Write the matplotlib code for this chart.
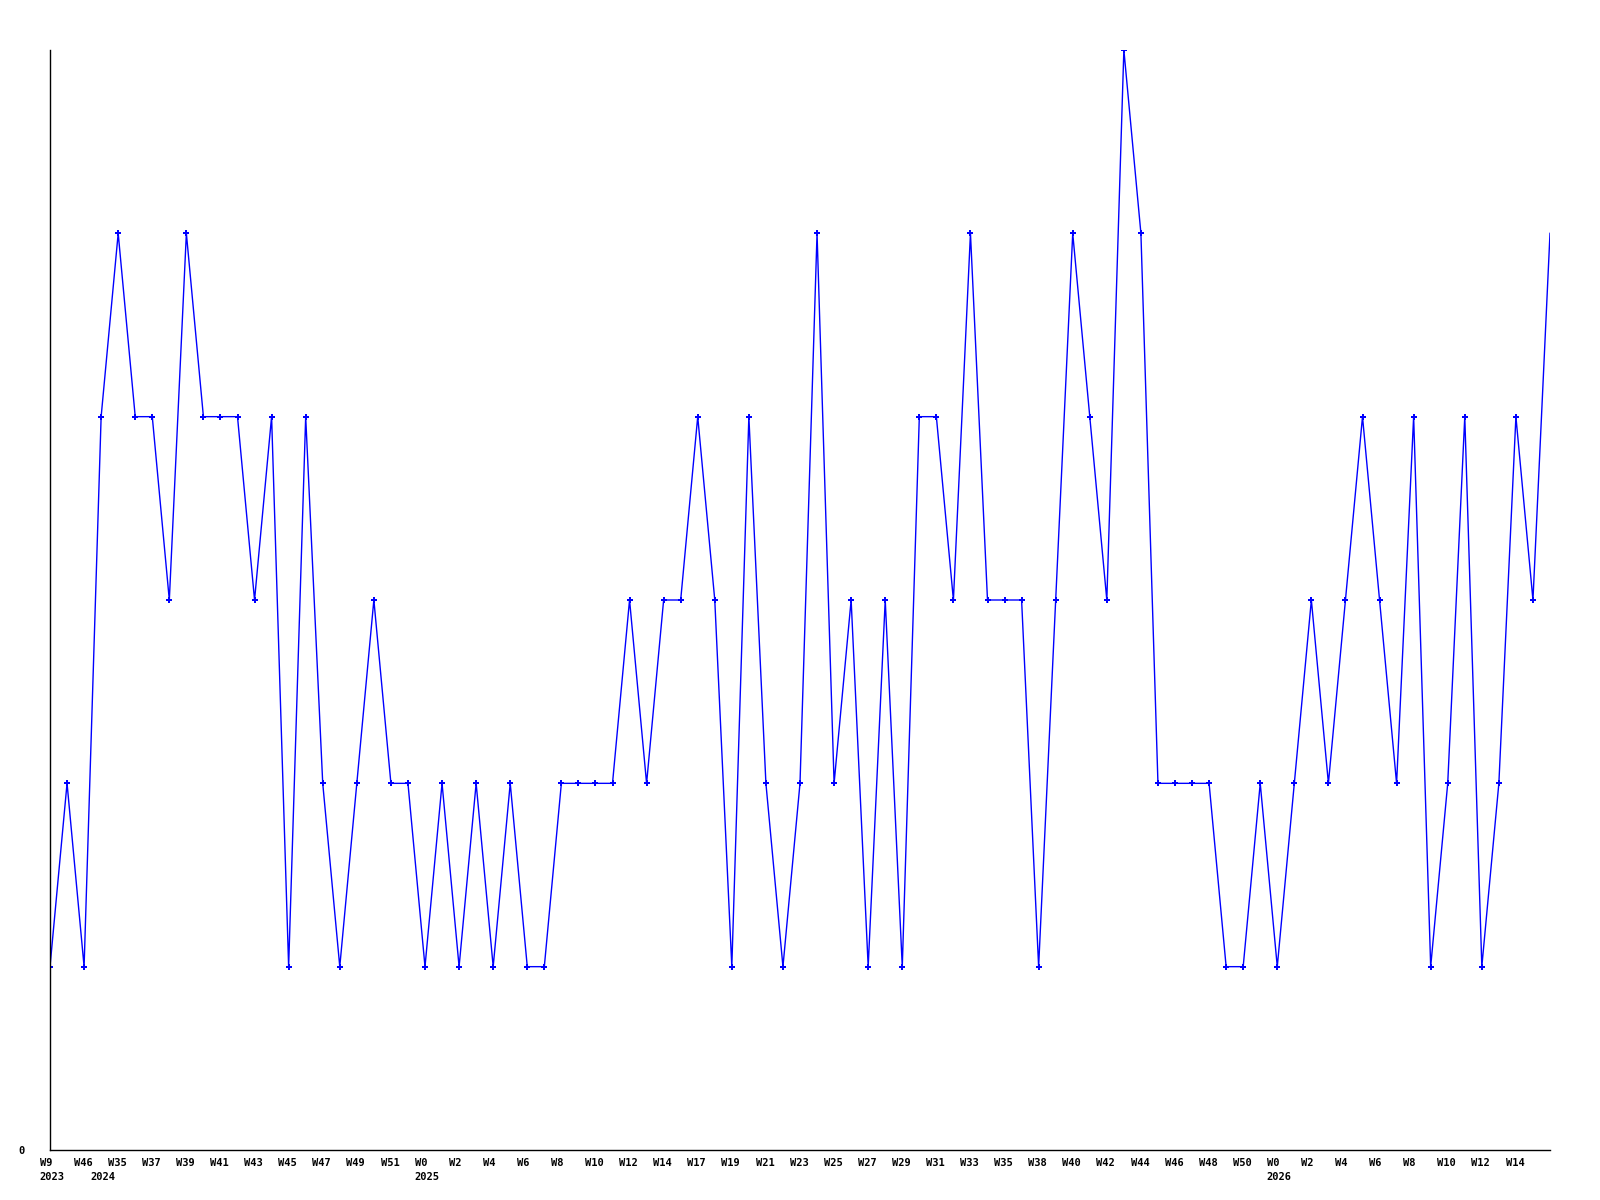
import matplotlib
matplotlib.use("Agg")
import matplotlib.pyplot as plt
import matplotlib.transforms as mtransforms

# weekly counts, one value per point
values = [1, 2, 1, 4, 5, 4, 4, 3, 5, 4,
          4, 4, 3, 4, 1, 4, 2, 1, 2, 3,
          2, 2, 1, 2, 1, 2, 1, 2, 1, 1,
          2, 2, 2, 2, 3, 2, 3, 3, 4, 3,
          1, 4, 2, 1, 2, 5, 2, 3, 1, 3,
          1, 4, 4, 3, 5, 3, 3, 3, 1, 3,
          5, 4, 3, 6, 5, 2, 2, 2, 2, 1,
          1, 2, 1, 2, 3, 2, 3, 4, 3, 2,
          4, 1, 2, 4, 1, 2, 4, 3, 5]

# week labels, placed on every second point
week_labels = ["W9", "W46", "W35", "W37", "W39", "W41", "W43", "W45", "W47", "W49",
               "W51", "W0", "W2", "W4", "W6", "W8", "W10", "W12", "W14", "W17",
               "W19", "W21", "W23", "W25", "W27", "W29", "W31", "W33", "W35", "W38",
               "W40", "W42", "W44", "W46", "W48", "W50", "W0", "W2", "W4", "W6",
               "W8", "W10", "W12", "W14"]
year_labels = {0: "2023", 3: "2024", 22: "2025", 72: "2026"}

x = list(range(len(values)))

fig = plt.figure(figsize=(16, 12), dpi=100)
ax = fig.add_axes([50 / 1600, 1 - 1150 / 1200, 1500 / 1600, 1100 / 1200])

ax.plot(x, values, color="#0000ff", linewidth=1)
ax.plot(x[:-1], values[:-1], linestyle="none", marker="P", markersize=4,
        color="#0000ff", markeredgewidth=0)

ax.set_xlim(0, len(values) - 1)
ax.set_ylim(0, 6)

# x labels drawn as text, left-aligned a little before each point
base = mtransforms.blended_transform_factory(ax.transData, ax.transAxes)
row1 = base + mtransforms.ScaledTranslation(-10.4 / 100, -8.0 / 100, fig.dpi_scale_trans)
row2 = base + mtransforms.ScaledTranslation(-10.4 / 100, -22.5 / 100, fig.dpi_scale_trans)
font = dict(fontsize=7.5, fontweight="bold", family="DejaVu Sans Mono", ha="left", va="top")
for k, lab in enumerate(week_labels):
    ax.text(2 * k, 0, lab, transform=row1, **font)
for i, yr in year_labels.items():
    ax.text(i, 0, yr, transform=row2, **font)

ax.set_xticks([])
ax.set_yticks([0])
ax.set_yticklabels(["0"], fontsize=7.5, fontweight="bold", family="DejaVu Sans Mono")
ax.tick_params(axis="y", length=0, pad=18)

ax.spines["top"].set_visible(False)
ax.spines["right"].set_visible(False)
ax.spines["left"].set_linewidth(1)
ax.spines["bottom"].set_linewidth(1)

fig.savefig("out.png", dpi=100, facecolor="white")
